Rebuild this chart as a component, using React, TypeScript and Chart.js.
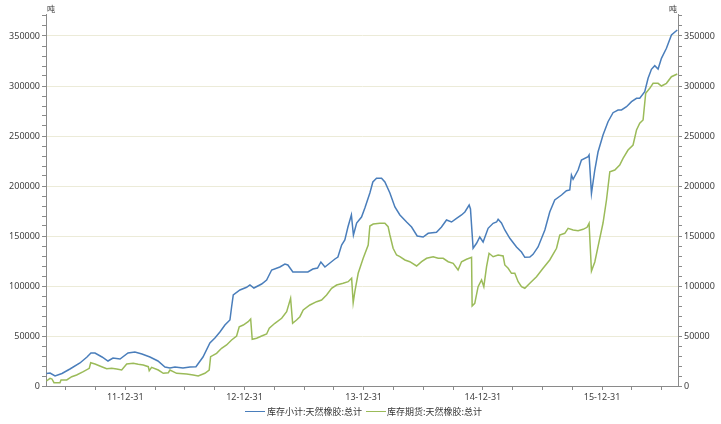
import React, { useEffect, useRef } from "react";
import { Chart, registerables } from "chart.js";

Chart.register(...registerables);

// ---- data (x = decimal year) ----
const seriesNames = ["库存小计:天然橡胶:总计", "库存期货:天然橡胶:总计"];
const unitLabel = "吨";

const stockYears = [
  2011.339, 2011.369, 2011.411, 2011.469, 2011.536, 2011.620, 2011.679, 2011.712, 2011.746, 2011.805,
  2011.855, 2011.897, 2011.956, 2012.023, 2012.081, 2012.140, 2012.207, 2012.274, 2012.333, 2012.375,
  2012.417, 2012.484, 2012.543, 2012.593, 2012.652, 2012.710, 2012.752, 2012.794, 2012.836, 2012.878,
  2012.892, 2012.906, 2012.962, 2013.018, 2013.046, 2013.079, 2013.144, 2013.186, 2013.228, 2013.297,
  2013.339, 2013.364, 2013.406, 2013.465, 2013.532, 2013.574, 2013.613, 2013.641, 2013.675, 2013.717,
  2013.759, 2013.784, 2013.815, 2013.842, 2013.868, 2013.897, 2013.914, 2013.941, 2013.982, 2014.010,
  2014.052, 2014.077, 2014.108, 2014.150, 2014.178, 2014.220, 2014.262, 2014.304, 2014.360, 2014.402,
  2014.449, 2014.499, 2014.541, 2014.611, 2014.653, 2014.695, 2014.737, 2014.779, 2014.821, 2014.849,
  2014.885, 2014.896, 2014.918, 2014.947, 2014.974, 2015.002, 2015.044, 2015.086, 2015.115, 2015.128,
  2015.156, 2015.184, 2015.226, 2015.282, 2015.324, 2015.352, 2015.394, 2015.421, 2015.463, 2015.520,
  2015.561, 2015.603, 2015.660, 2015.701, 2015.729, 2015.743, 2015.757, 2015.799, 2015.827, 2015.883,
  2015.891, 2015.911, 2015.939, 2015.966, 2016.008, 2016.050, 2016.092, 2016.134, 2016.163, 2016.205,
  2016.247, 2016.289, 2016.316, 2016.358, 2016.386, 2016.414, 2016.442, 2016.470, 2016.498, 2016.540,
  2016.582, 2016.631,
];
const stockValues = [
  12500, 13000, 10000, 12500, 17000, 23000, 29000, 33000, 33000, 29000,
  25000, 28000, 27000, 33000, 34000, 32000, 29000, 25000, 19000, 18000,
  19000, 18000, 19000, 19300, 29000, 43000, 48000, 54000, 61000, 66000,
  79000, 91000, 96000, 98700, 101000, 98000, 102000, 106000, 116000, 119000,
  122000, 121000, 114000, 114000, 114000, 117000, 118000, 124000, 119000, 123000,
  127000, 129000, 141000, 146000, 159000, 171000, 151000, 163000, 169000, 178000,
  193000, 204000, 207700, 207700, 204000, 193000, 179000, 171000, 164000, 159000,
  150000, 149000, 152700, 153700, 159000, 166000, 164000, 167700, 171000, 174000,
  181000, 177000, 137700, 142700, 149000, 144000, 157700, 162700, 164000, 166700,
  163000, 156000, 147700, 139000, 134000, 128700, 129000, 131700, 139000, 156000,
  174000, 186000, 191000, 195300, 196000, 211000, 206700, 216000, 226000, 229300,
  231000, 192700, 216000, 234000, 251000, 264300, 273300, 276000, 276000, 279300,
  284300, 287700, 287700, 294300, 307700, 316700, 320300, 317000, 327700, 337700,
  351000, 356000,
];

const futuresYears = [
  2011.339, 2011.369, 2011.385, 2011.402, 2011.452, 2011.461, 2011.509, 2011.551, 2011.592, 2011.648,
  2011.698, 2011.710, 2011.746, 2011.802, 2011.844, 2011.886, 2011.928, 2011.970, 2012.012, 2012.067,
  2012.109, 2012.151, 2012.193, 2012.201, 2012.221, 2012.277, 2012.319, 2012.361, 2012.375, 2012.431,
  2012.515, 2012.570, 2012.612, 2012.668, 2012.704, 2012.716, 2012.766, 2012.808, 2012.850, 2012.892,
  2012.934, 2012.956, 2012.990, 2013.031, 2013.052, 2013.065, 2013.102, 2013.144, 2013.186, 2013.208,
  2013.255, 2013.312, 2013.354, 2013.387, 2013.404, 2013.437, 2013.465, 2013.493, 2013.549, 2013.605,
  2013.647, 2013.689, 2013.731, 2013.773, 2013.828, 2013.870, 2013.899, 2013.912, 2013.926, 2013.954,
  2013.996, 2014.038, 2014.052, 2014.080, 2014.136, 2014.178, 2014.205, 2014.220, 2014.247, 2014.276,
  2014.304, 2014.346, 2014.387, 2014.444, 2014.486, 2014.528, 2014.583, 2014.625, 2014.667, 2014.709,
  2014.751, 2014.792, 2014.821, 2014.863, 2014.905, 2014.910, 2014.932, 2014.960, 2014.989, 2015.008,
  2015.031, 2015.052, 2015.086, 2015.128, 2015.170, 2015.184, 2015.212, 2015.240, 2015.268, 2015.296,
  2015.324, 2015.352, 2015.394, 2015.450, 2015.505, 2015.561, 2015.618, 2015.645, 2015.687, 2015.715,
  2015.757, 2015.799, 2015.841, 2015.874, 2015.891, 2015.911, 2015.939, 2015.966, 2016.008, 2016.037,
  2016.065, 2016.107, 2016.148, 2016.176, 2016.218, 2016.260, 2016.289, 2016.316, 2016.344, 2016.366,
  2016.400, 2016.428, 2016.470, 2016.498, 2016.540, 2016.582, 2016.631,
];
const futuresValues = [
  5000, 7700, 7000, 3300, 3300, 6000, 6000, 9300, 11000, 14300,
  17700, 23300, 22000, 19300, 17300, 17700, 17000, 16000, 22000, 22700,
  21700, 21000, 19300, 15300, 18700, 16000, 12700, 13300, 16000, 12700,
  12000, 11000, 10000, 12700, 16000, 29300, 32700, 37700, 41000, 46000,
  50000, 59300, 61000, 64300, 67000, 46700, 47700, 50000, 52000, 57700,
  62700, 67700, 74300, 87700, 62700, 66000, 69300, 76000, 81000, 84300,
  86000, 91000, 97700, 101000, 102700, 104300, 107700, 83300, 94300, 112700,
  127700, 141000, 160000, 162000, 162700, 162700, 159300, 151000, 137700, 131000,
  129300, 126000, 124300, 120000, 124300, 127700, 129300, 127700, 127700, 124300,
  122700, 116000, 124300, 126700, 128700, 80000, 82700, 99300, 106000, 99300,
  119300, 132700, 129300, 131000, 130000, 121000, 117700, 112700, 112700, 104300,
  99300, 97700, 102700, 109300, 117700, 126000, 137700, 151000, 152700, 157700,
  156000, 155300, 156700, 158700, 162700, 115000, 124000, 139300, 163000, 186000,
  214300, 216000, 221000, 227700, 236000, 241000, 256000, 262700, 266000, 292700,
  297700, 302700, 302700, 300000, 302700, 309300, 312000,
];

// ---- axes ----
const xMin = 2011.335;
const xMax = 2016.637;
const yearEndTicks = [2012, 2013, 2014, 2015, 2016];
const yearEndLabels = ["11-12-31", "12-12-31", "13-12-31", "14-12-31", "15-12-31"];
const yMin = 0;
const yMax = 372000;
const yMajorStep = 50000;
const yMinorStep = 10000;

const TICK_FONT = { family: "'Noto Sans', sans-serif", size: 9 };
const TEXT_COLOR = "#404040";
const AXIS_COLOR = "#8a8a8a";
const GRID_COLOR = "#ecebd8";
const BLUE = "#4a7ebb";
const GREEN = "#9bbb59";

function quarterTicks() {
  const out: { value: number }[] = [];
  for (let q = Math.ceil(xMin * 4); q <= Math.floor(xMax * 4); q++) out.push({ value: q / 4 });
  return out;
}
function yTicks() {
  const out: { value: number }[] = [];
  for (let v = yMin; v <= yMax; v += yMinorStep) out.push({ value: v });
  return out;
}
function xLabel(v: number) {
  const i = yearEndTicks.findIndex((t) => Math.abs(t - v) < 1e-6);
  return i >= 0 ? yearEndLabels[i] : "";
}
function yLabel(v: number) {
  return v % yMajorStep === 0 ? String(v) : "";
}

export default function App() {
  const ref = useRef<HTMLCanvasElement | null>(null);
  useEffect(() => {
    if (!ref.current) return;
    const yCommon = (side: "left" | "right") => ({
      type: "linear" as const,
      position: side,
      min: yMin,
      max: yMax,
      afterBuildTicks: (s: any) => {
        s.ticks = yTicks();
      },
      afterFit: (s: any) => {
        s.width = side === "left" ? 46 : 43;
      },
      ticks: {
        autoSkip: false,
        padding: 2,
        font: TICK_FONT,
        color: TEXT_COLOR,
        callback: (v: any) => yLabel(Number(v)),
      },
      grid: {
        drawOnChartArea: side === "left",
        color: (c: any) =>
          c.tick && c.tick.value % yMajorStep === 0 && c.tick.value !== 0 ? GRID_COLOR : "rgba(0,0,0,0)",
        tickColor: AXIS_COLOR,
        tickLength: 4,
        lineWidth: 1,
      },
      border: { display: true, color: AXIS_COLOR, width: 1 },
    });
    const chart = new Chart(ref.current, {
      type: "line",
      data: {
        datasets: [
          {
            label: seriesNames[0],
            data: stockYears.map((x, i) => ({ x, y: stockValues[i] })),
            borderColor: BLUE,
            backgroundColor: BLUE,
            borderWidth: 1.5,
            pointRadius: 0,
            tension: 0,
            yAxisID: "y",
          },
          {
            label: seriesNames[1],
            data: futuresYears.map((x, i) => ({ x, y: futuresValues[i] })),
            borderColor: GREEN,
            backgroundColor: GREEN,
            borderWidth: 1.5,
            pointRadius: 0,
            tension: 0,
            yAxisID: "y",
          },
        ],
      },
      options: {
        animation: false,
        responsive: false,
        devicePixelRatio: 1,
        layout: { padding: { top: 14, left: 0, right: 0, bottom: 0 } },
        plugins: { legend: { display: false }, tooltip: { enabled: false } },
        scales: {
          x: {
            type: "linear",
            min: xMin,
            max: xMax,
            afterBuildTicks: (s: any) => {
              s.ticks = quarterTicks();
            },
            afterFit: (s: any) => {
              s.height = 38;
            },
            ticks: {
              autoSkip: false,
              maxRotation: 0,
              padding: 2,
              font: TICK_FONT,
              color: TEXT_COLOR,
              callback: (v: any) => xLabel(Number(v)),
            },
            grid: { drawOnChartArea: false, tickColor: AXIS_COLOR, tickLength: 4 },
            border: { display: true, color: AXIS_COLOR, width: 1 },
          },
          y: yCommon("left") as any,
          y1: yCommon("right") as any,
        },
      },
    });
    return () => chart.destroy();
  }, []);

  const legendText: React.CSSProperties = {
    position: "absolute",
    top: 405,
    fontFamily: "'Noto Sans CJK SC', sans-serif",
    fontSize: 9,
    lineHeight: "14px",
    color: "#333",
    whiteSpace: "nowrap",
  };
  const legendLine: React.CSSProperties = {
    position: "absolute",
    top: 411,
    width: 20,
    height: 0,
  };
  const unitStyle: React.CSSProperties = {
    position: "absolute",
    top: 4,
    fontFamily: "'Noto Sans CJK SC', sans-serif",
    fontSize: 8,
    color: "#333",
    lineHeight: "10px",
  };
  return (
    <div style={{ position: "absolute", left: 0, top: 0, width: 721, height: 424, background: "#fff" }}>
      <canvas ref={ref} width={721} height={424} style={{ display: "block" }} />
      <span style={{ ...unitStyle, left: 47 }}>{unitLabel}</span>
      <span style={{ ...unitStyle, left: 669 }}>{unitLabel}</span>
      <span style={{ ...legendLine, left: 245, borderTop: `1.5px solid ${BLUE}` }} />
      <span style={{ ...legendText, left: 267 }}>{seriesNames[0]}</span>
      <span style={{ ...legendLine, left: 366, borderTop: `1.5px solid ${GREEN}` }} />
      <span style={{ ...legendText, left: 387 }}>{seriesNames[1]}</span>
    </div>
  );
}
